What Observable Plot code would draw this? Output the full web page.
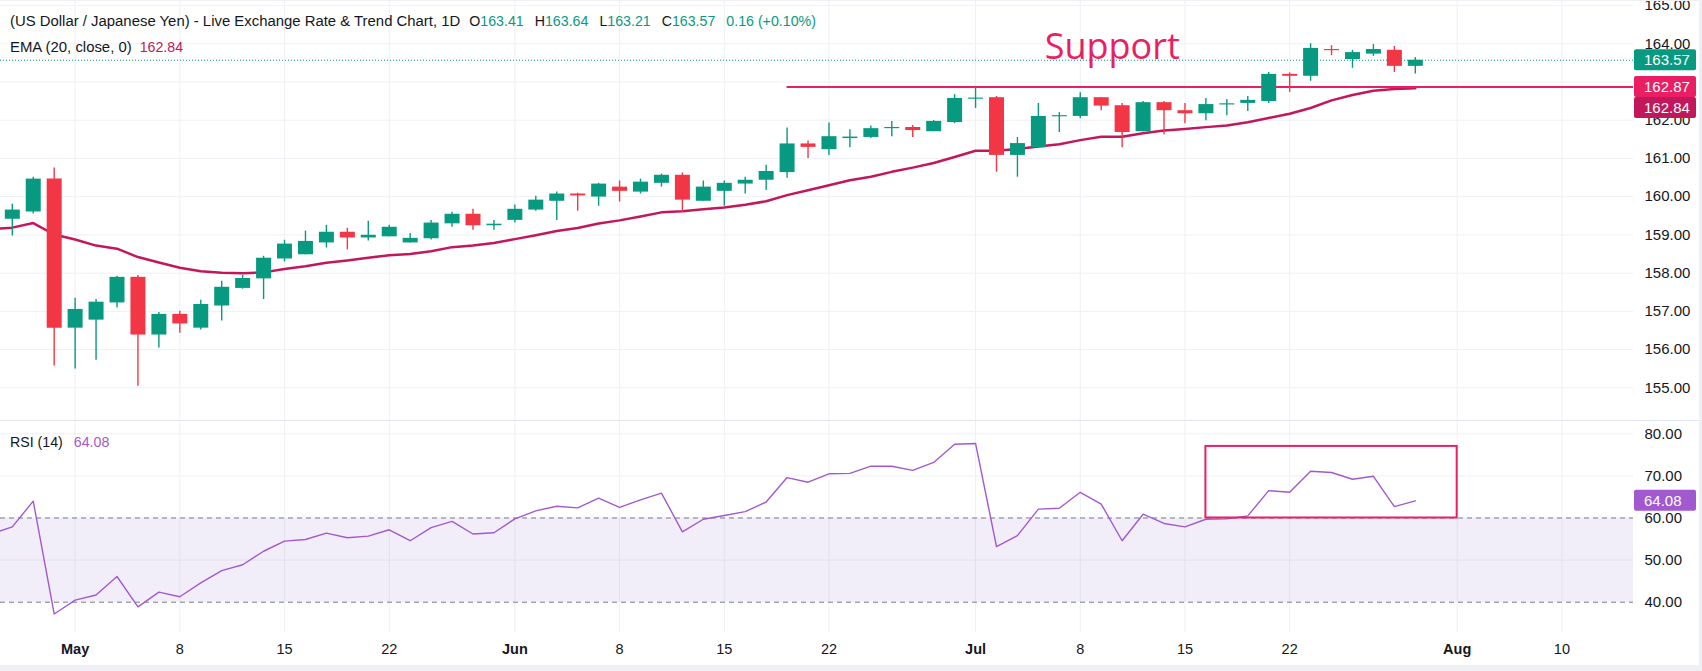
<!DOCTYPE html>
<html><head><meta charset="utf-8">
<script src="https://cdn.jsdelivr.net/npm/d3@7"></script>
<script src="https://cdn.jsdelivr.net/npm/@observablehq/plot@0.6"></script>
<style>
html,body{margin:0;padding:0;background:#fff;}
#wrap{position:relative;width:1702px;height:671px;overflow:hidden;font-family:"Liberation Sans",Arial,sans-serif;background:#fff;}
#wrap svg{display:block;position:absolute;left:0;}
.hdr{position:absolute;left:10px;font-size:14.9px;color:#131722;white-space:pre;line-height:16px;}
.n{font-size:14.2px;}
.g{color:#089981;} .sp{margin-left:11px;} .sp0{margin-left:8px;} .sp1{margin-left:9px;}
.band{position:absolute;background:#eef0f5;}
</style></head><body><div id="wrap"></div>
<script>
// ---------- data (bar index 0 = first candle; bars are trading days) ----------
const opens  = [159.41,159.60,160.46,156.56,156.77,157.22,157.89,156.38,156.92,156.56,157.14,157.60,157.85,158.37,158.48,158.79,159.07,158.92,158.95,158.79,158.90,159.29,159.54,159.24,159.38,159.65,159.88,160.07,159.99,160.25,160.12,160.35,160.56,159.88,160.14,160.33,160.43,160.63,161.38,161.23,161.52,161.55,161.78,161.81,161.70,161.94,162.55,162.59,161.08,161.28,162.09,162.10,162.59,162.38,161.70,162.46,162.25,162.17,162.40,162.44,162.49,163.20,163.15,163.85,163.59,163.73,163.83,163.41];
const highs  = [159.80,160.51,160.75,157.34,157.31,157.92,157.94,156.97,157.00,157.29,157.79,157.94,158.44,158.86,159.10,159.25,159.17,159.36,159.25,159.04,159.38,159.59,159.67,159.38,159.78,160.01,160.12,160.09,160.35,160.41,160.46,160.59,160.62,160.41,160.41,160.51,160.82,161.80,161.46,161.93,161.75,161.85,161.97,161.86,161.99,162.67,162.85,162.62,161.55,162.44,162.20,162.72,162.59,162.44,162.49,162.49,162.44,162.57,162.54,162.62,163.25,163.24,164.00,163.95,163.83,163.98,163.93,163.64];
const lows   = [158.97,159.55,155.57,155.49,155.72,157.09,155.04,156.04,156.43,156.51,156.75,157.58,157.31,158.29,158.48,158.66,158.61,158.84,158.95,158.79,158.87,159.20,159.12,159.12,159.31,159.62,159.38,159.62,159.75,159.86,160.07,160.25,159.59,159.88,159.75,160.07,160.16,160.48,161.00,161.08,161.28,161.52,161.57,161.55,161.70,161.91,162.31,160.64,160.51,161.28,161.68,162.04,162.25,161.28,161.70,161.62,161.91,161.99,162.12,162.23,162.44,162.73,163.02,163.69,163.36,163.67,163.25,163.21];
const closes = [159.65,160.46,156.56,157.05,157.24,157.89,156.38,156.92,156.67,157.18,157.63,157.86,158.39,158.76,158.83,159.07,158.92,158.99,159.20,158.91,159.31,159.54,159.24,159.28,159.67,159.91,160.07,160.02,160.33,160.14,160.38,160.56,159.91,160.25,160.35,160.43,160.66,161.38,161.29,161.57,161.56,161.78,161.81,161.73,161.97,162.57,162.58,161.08,161.39,162.10,162.12,162.59,162.37,161.68,162.46,162.25,162.17,162.41,162.43,162.52,163.20,163.15,163.88,163.82,163.77,163.85,163.41,163.57];
// EMA(20) and RSI(14) values start one bar before the first visible candle (index -1)
const emaValues = [159.15,159.19,159.31,159.01,158.88,158.72,158.64,158.42,158.28,158.14,158.05,158.01,158.00,158.02,158.11,158.18,158.27,158.33,158.40,158.47,158.50,158.57,158.68,158.72,158.79,158.89,158.99,159.10,159.18,159.30,159.38,159.48,159.59,159.62,159.67,159.72,159.79,159.88,160.04,160.17,160.30,160.43,160.52,160.65,160.76,160.88,161.04,161.20,161.20,161.25,161.31,161.37,161.48,161.57,161.57,161.66,161.73,161.77,161.82,161.86,161.95,162.06,162.17,162.32,162.52,162.66,162.77,162.82,162.84];
const rsiValues = [56.2,57.9,64.0,37.2,40.5,41.7,46.1,38.9,42.4,41.3,44.6,47.5,48.9,52.1,54.5,54.9,56.4,55.3,55.7,57.2,54.6,57.7,59.2,56.2,56.5,59.8,61.7,62.8,62.4,64.7,62.5,64.3,65.9,56.7,59.7,60.6,61.5,63.8,69.6,68.5,70.5,70.6,72.3,72.3,71.3,73.2,77.5,77.7,53.2,55.8,62.1,62.3,66.1,63.3,54.6,60.9,58.7,57.9,59.7,59.8,60.5,66.5,66.1,71.1,70.8,69.2,69.9,62.7,64.08];
const indicatorStart = -1;
// time axis ticks (bar index -> label)
const tickIndex = [3,8,13,18,24,29,34,39,46,51,56,61,69,74];
const tickLabel = ["May","8","15","22","Jun","8","15","22","Jul","8","15","22","Aug","10"];
const priceTicks = [155,156,157,158,159,160,161,162,163,164,165];
const priceLabelTicks = [155,156,157,158,159,160,161,162,164,165]; // 163.00 sits under the price tags
const rsiTicks = [40,50,60,70,80];
const rsiBandLevels = [40,60];
// annotations
const supportLevel = 162.87, supportFromBar = 37;
const supportText = "Support", supportTextBar = 49.3, supportTextPrice = 163.90;
const lastPrice = 163.57, lastEma = 162.84, lastRsi = 64.08;
const rsiBoxBars = [57,69], rsiBoxLevels = [60,77];
const header = {title:"(US Dollar / Japanese Yen) - Live Exchange Rate & Trend Chart, 1D",
  O:"163.41",H:"163.64",L:"163.21",C:"163.57",chg:"0.16 (+0.10%)"};

// ---------- styles ----------
const GREEN="#089981", RED="#f23645", GRID="#eef0f3", TXT="#131722";
const EMA_C="#c2185b", SUP_C="#e91e63", RSI_C="#a259cf";
const FONT='"Liberation Sans", Arial, sans-serif';
const W=1702, AXW=69;
const xDomain=[-0.5635, 77.42];

const candles = opens.map((o,i)=>({i,o,h:highs[i],l:lows[i],c:closes[i]}));
const col = d => d.c>=d.o?GREEN:RED;
const emaData = emaValues.map((v,k)=>({i:k+indicatorStart,v}));
const rsiData = rsiValues.map((v,k)=>({i:k+indicatorStart,v}));
const ticks = tickIndex.map((i,k)=>({i,label:tickLabel[k],month:isNaN(+tickLabel[k])}));

const wrap = document.getElementById("wrap");

// ---------- price pane ----------
const price = Plot.plot({
  width:W, height:421, marginLeft:0, marginRight:AXW, marginTop:0, marginBottom:0,
  style:{fontFamily:FONT, fontSize:"15px", color:TXT, background:"transparent", overflow:"visible"},
  x:{domain:xDomain, axis:null},
  y:{domain:[154.118,165.133], axis:null},
  marks:[
    Plot.ruleY(priceTicks,{stroke:GRID}),
    Plot.ruleX(tickIndex,{stroke:GRID}),
    Plot.axisY(priceLabelTicks,{anchor:"right", label:null, tickSize:0, tickPadding:11, tickFormat:d=>d.toFixed(2), fill:TXT}),
    Plot.ruleY([lastPrice],{stroke:GREEN, strokeDasharray:"1,2", strokeWidth:1}),
    Plot.line(emaData,{x:"i", y:"v", stroke:EMA_C, strokeWidth:2.5, clip:true}),
    Plot.ruleY([supportLevel],{x1:supportFromBar, x2:xDomain[1], stroke:SUP_C, strokeWidth:2}),
    Plot.ruleX(candles,{x:"i", y1:"l", y2:"h", stroke:col, strokeWidth:1.4}),
    Plot.ruleX(candles,{x:"i", y1:"o", y2:"c", stroke:col, strokeWidth:15}),
    Plot.text([supportText],{x:supportTextBar, y:supportTextPrice, text:d=>d, fill:SUP_C, fontSize:36, textAnchor:"start", fontFamily:'"Open Sans", sans-serif'})
  ]
});
price.style.top="0px";
wrap.appendChild(price);

// ---------- RSI pane ----------
const rsi = Plot.plot({
  width:W, height:250, marginLeft:0, marginRight:AXW, marginTop:0, marginBottom:39,
  style:{fontFamily:FONT, fontSize:"15px", color:TXT, background:"transparent", overflow:"visible"},
  x:{domain:xDomain, axis:null},
  y:{domain:[32.8,82.92], axis:null},
  marks:[
    Plot.ruleY(rsiTicks.filter(v=>!rsiBandLevels.includes(v)),{stroke:GRID}),
    Plot.ruleX(tickIndex,{stroke:GRID}),
    Plot.rect([rsiBandLevels],{x1:xDomain[0], x2:xDomain[1], y1:d=>d[0], y2:d=>d[1], fill:"#7e57c2", fillOpacity:0.1}),
    Plot.ruleY(rsiBandLevels,{stroke:"#787b86", strokeDasharray:"5,4", strokeWidth:1}),
    Plot.axisY(rsiTicks,{anchor:"right", label:null, tickSize:0, tickPadding:11, tickFormat:d=>d.toFixed(2), fill:TXT}),
    Plot.line(rsiData,{x:"i", y:"v", stroke:RSI_C, strokeWidth:1.4, clip:true}),
    Plot.rect([rsiBoxBars],{x1:d=>d[0], x2:d=>d[1], y1:rsiBoxLevels[0], y2:rsiBoxLevels[1], fill:"none", stroke:SUP_C, strokeWidth:2}),
    Plot.text(ticks.filter(d=>d.month),{x:"i", text:"label", frameAnchor:"bottom", dy:21, fontWeight:"bold", fontSize:14.5, fill:TXT}),
    Plot.text(ticks.filter(d=>!d.month),{x:"i", text:"label", frameAnchor:"bottom", dy:21, fontSize:14.5, fill:TXT})
  ]
});
rsi.style.top="421px";
wrap.appendChild(rsi);

// ---------- value tags on the price scale (placed via the plot scales) ----------
function tags(svg, scale, items){
  const s=d3.select(svg); let prev=-Infinity; const h=21;
  items.sort((a,b)=>b.v-a.v).forEach(t=>{
    let cy=scale.apply(t.v); if(cy<prev+h) cy=prev+h; prev=cy;
    const g=s.append("g").attr("text-anchor","start");
    g.append("rect").attr("x",W-AXW+1).attr("y",cy-h/2).attr("width",62).attr("height",h).attr("rx",2).attr("fill",t.bg);
    g.append("text").attr("x",W-AXW+11).attr("y",cy).attr("dy","0.35em").attr("fill","#fff").attr("text-anchor","start")
      .attr("font-size",15).attr("font-family",FONT).text(t.v.toFixed(2));
  });
}
tags(price, price.scale("y"), [{v:lastPrice,bg:GREEN},{v:supportLevel,bg:SUP_C},{v:lastEma,bg:EMA_C}]);
tags(rsi, rsi.scale("y"), [{v:lastRsi,bg:RSI_C}]);

// ---------- legends ----------
function div(cls, top, html){const d=document.createElement("div"); d.className=cls; d.style.top=top+"px"; d.innerHTML=html; wrap.appendChild(d); return d;}
div("hdr",13,`${header.title}<span class="sp1 n">O<span class="g">${header.O}</span></span><span class="sp n">H<span class="g">${header.H}</span></span><span class="sp n">L<span class="g">${header.L}</span></span><span class="sp n">C<span class="g">${header.C}</span></span><span class="sp n g">${header.chg}</span>`);
div("hdr",39,`EMA (20, close, 0)<span class="sp0 n" style="color:${EMA_C}">${lastEma.toFixed(2)}</span>`);
div("hdr n",434,`RSI (14)<span class="sp" style="color:${RSI_C}">${lastRsi.toFixed(2)}</span>`);
// pane separator and frame
const sep=document.createElement("div"); sep.style.cssText="position:absolute;left:0;top:420px;width:1702px;height:1px;background:#e0e3eb";wrap.appendChild(sep);
const b1=document.createElement("div"); b1.className="band"; b1.style.cssText+="left:0;top:665px;width:1702px;height:6px";wrap.appendChild(b1);
const b2=document.createElement("div"); b2.className="band"; b2.style.cssText+="left:1699px;top:0;width:3px;height:671px";wrap.appendChild(b2);
const b3=document.createElement("div"); b3.className="band"; b3.style.cssText+="left:0;top:0;width:1702px;height:1px";wrap.appendChild(b3);
</script></body></html>
